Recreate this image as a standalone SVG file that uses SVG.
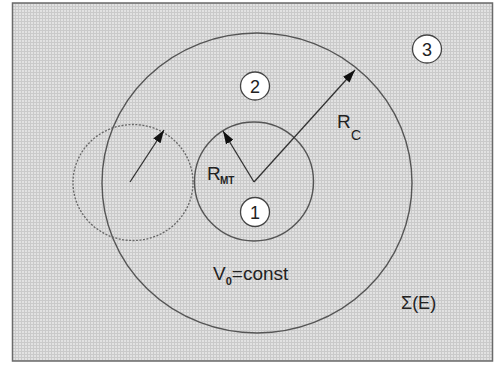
<svg xmlns="http://www.w3.org/2000/svg" width="494" height="365" viewBox="0 0 494 365">
  <defs>
    <pattern id="hatch" width="3" height="3" patternUnits="userSpaceOnUse">
      <rect width="3" height="3" fill="#e2e2e2"/>
      <path d="M0 0.5H3M0.5 0V3" stroke="#cacaca" stroke-width="1"/>
    </pattern>
    <marker id="ah" viewBox="0 0 12 8" refX="12" refY="4" markerWidth="13" markerHeight="9" markerUnits="userSpaceOnUse" orient="auto">
      <path d="M0 0L12 4L0 8Z" fill="#111"/>
    </marker>
  </defs>
  <style>
    .ring { fill: none; stroke: #555; stroke-width: 1.4; }
    .dash { fill: none; stroke: #666; stroke-width: 1.3; stroke-dasharray: 2 1.5; }
    .arrow { stroke: #333; stroke-width: 1.3; fill: none; marker-end: url(#ah); }
    .lbl { font-family: "Liberation Sans", Arial, sans-serif; fill: #222; }
    .num { fill: #fff; stroke: #444; stroke-width: 1.3; }
  </style>

  <g id="background">
    <rect x="12.5" y="3" width="480" height="358" fill="url(#hatch)" stroke="#6a6a6a" stroke-width="1.5"/>
  </g>

  <g id="outer-circle">
    <ellipse cx="257" cy="183" rx="155" ry="150" fill="#fff" class="ring"/>
  </g>

  <g id="dashed-circle">
    <ellipse cx="133" cy="182.5" rx="60" ry="58" class="dash"/>
  </g>

  <g id="inner-circle">
    <circle cx="254" cy="181.5" r="59.5" class="ring"/>
  </g>

  <g id="connectors">
    <line x1="254" y1="182" x2="355" y2="70" class="arrow"/>
    <line x1="254" y1="182" x2="223" y2="131" class="arrow"/>
    <line x1="130" y1="182" x2="164" y2="130" class="arrow"/>
  </g>

  <g id="region-2">
    <ellipse cx="255" cy="86" rx="14.5" ry="14" class="num"/>
    <text x="255" y="92.5" class="lbl" font-size="18" text-anchor="middle">2</text>
  </g>
  <g id="region-1">
    <ellipse cx="255" cy="212" rx="14.5" ry="14.5" class="num"/>
    <text x="255" y="218.5" class="lbl" font-size="18" text-anchor="middle">1</text>
  </g>
  <g id="region-3">
    <ellipse cx="427" cy="49" rx="14.5" ry="14" class="num"/>
    <text x="427" y="55.5" class="lbl" font-size="18" text-anchor="middle">3</text>
  </g>

  <g id="label-rmt">
    <text x="207" y="180" class="lbl" font-size="19">R<tspan x="220" y="183.5" font-size="10" font-weight="bold">MT</tspan></text>
  </g>
  <g id="label-rc">
    <text x="337" y="127.5" class="lbl" font-size="19">R<tspan x="351" y="139.5" font-size="14">C</tspan></text>
  </g>
  <g id="label-v0">
    <text x="213" y="280" class="lbl" font-size="19">V<tspan font-size="11" font-weight="bold" y="284.5">0</tspan><tspan y="280">=const</tspan></text>
  </g>
  <g id="label-sigma">
    <text x="401" y="308.5" class="lbl" font-size="18">Σ(E)</text>
  </g>
</svg>
